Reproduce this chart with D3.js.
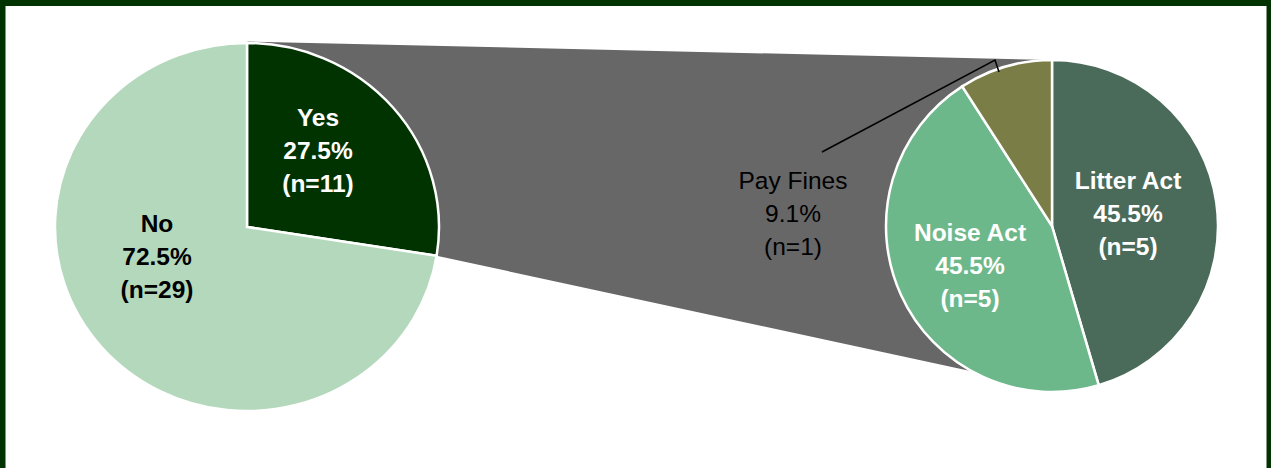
<!DOCTYPE html>
<html>
<head>
<meta charset="utf-8">
<script src="https://cdn.jsdelivr.net/npm/d3@7"></script>
<style>
html,body{margin:0;padding:0;background:#fff;}
svg{display:block;}
text{font-family:"Liberation Sans",Arial,sans-serif;}
</style>
</head>
<body>
<svg id="chart" width="1271" height="468"></svg>
<script>
// ---- data ----
const mainCategories = ["Yes", "No"];
const mainCounts = [11, 29];
const mainPercents = ["27.5%", "72.5%"];
const subCategories = ["Litter Act", "Noise Act", "Pay Fines"];
const subCounts = [5, 5, 1];
const subPercents = ["45.5%", "45.5%", "9.1%"];

// ---- styles / layout ----
const mainColors = ["#003300", "#B3D8BC"];
const subColors = ["#4B6B5A", "#6DB88B", "#7A7D45"];
const mainLabelColors = ["#ffffff", "#000000"];
const subLabelColors = ["#ffffff", "#ffffff", "#000000"];
const subLabelWeights = ["bold", "bold", "normal"];

const W = 1271, H = 468;
const svg = d3.select("#chart");

// frame
svg.append("rect").attr("x", 2.5).attr("y", 3).attr("width", 1267).attr("height", 520)
  .attr("fill", "#fff").attr("stroke", "#003300").attr("stroke-width", 6);

// main pie geometry (slightly stretched horizontally as in the reference)
const L = {cx: 247, cy: 227, r: 184, sx: 192 / 184};
const R = {cx: 1052, cy: 226, r: 166};

const mainPie = d3.pie().sort(null).startAngle(0).endAngle(2 * Math.PI)(mainCounts);
const subPie = d3.pie().sort(null).startAngle(0).endAngle(2 * Math.PI)(subCounts);

const mainArc = d3.arc().innerRadius(0).outerRadius(L.r);
const subArc = d3.arc().innerRadius(0).outerRadius(R.r);

function ptL(a, r) { return [L.cx + L.sx * r * Math.sin(a), L.cy - r * Math.cos(a)]; }
function ptR(a, r) { return [R.cx + r * Math.sin(a), R.cy - r * Math.cos(a)]; }

// connector shape between the "Yes" slice and the secondary pie
const yes = mainPie[0];
const connectorBottomAngle = 209 * Math.PI / 180;
const pA = ptL(yes.startAngle, L.r + 1.5);
const pB = ptR(0, R.r);
const pC = ptR(connectorBottomAngle, R.r);
const pD = ptL(yes.endAngle, L.r);
svg.append("path")
  .attr("d", d3.line()([pA, pB, pC, pD]) + "Z")
  .attr("fill", "#676767");

// main pie
const gL = svg.append("g").attr("transform", `translate(${L.cx},${L.cy}) scale(${L.sx},1)`);
gL.selectAll("path").data(mainPie).join("path")
  .attr("d", mainArc)
  .attr("fill", (d, i) => mainColors[i])
  .attr("stroke", "#fff")
  .attr("stroke-width", 2.5)
  .attr("vector-effect", "non-scaling-stroke");

// sub pie
const gR = svg.append("g").attr("transform", `translate(${R.cx},${R.cy})`);
gR.selectAll("path").data(subPie).join("path")
  .attr("d", subArc)
  .attr("fill", (d, i) => subColors[i])
  .attr("stroke", "#fff")
  .attr("stroke-width", 2.5);

// labels
const fontSize = 24.5;
const lineGap = 33;
function label(x, y, lines, color, weight) {
  const t = svg.append("text")
    .attr("x", x).attr("y", y)
    .attr("text-anchor", "middle")
    .attr("font-size", fontSize)
    .attr("font-weight", weight)
    .attr("fill", color);
  lines.forEach((s, i) => {
    t.append("tspan").attr("x", x).attr("dy", i === 0 ? 0 : lineGap).text(s);
  });
}
const mainLabelPos = [[318, 126], [157, 232]];
mainCategories.forEach((c, i) => {
  label(mainLabelPos[i][0], mainLabelPos[i][1],
    [c, mainPercents[i], `(n=${mainCounts[i]})`], mainLabelColors[i], "bold");
});
const subLabelPos = [[1128, 189], [970, 241], [793, 189]];
subCategories.forEach((c, i) => {
  label(subLabelPos[i][0], subLabelPos[i][1],
    [c, subPercents[i], `(n=${subCounts[i]})`], subLabelColors[i], subLabelWeights[i]);
});

// leader line for Pay Fines
svg.append("path")
  .attr("d", d3.line()([[822, 152], [995, 60], [999, 72]]))
  .attr("fill", "none").attr("stroke", "#000").attr("stroke-width", 1.5);
</script>
</body>
</html>
